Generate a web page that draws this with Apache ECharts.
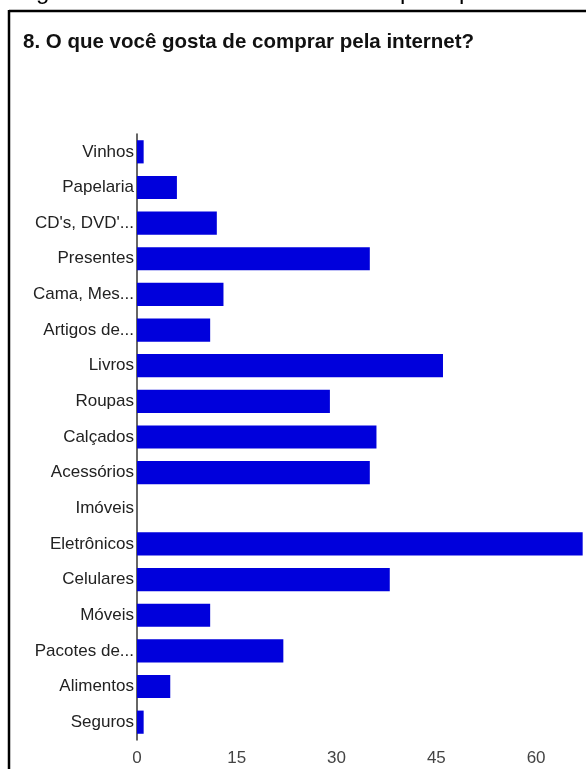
<!DOCTYPE html>
<html>
<head>
<meta charset="utf-8">
<script src="https://cdn.jsdelivr.net/npm/echarts@6/dist/echarts.min.js"></script>
<style>
html,body{margin:0;padding:0;background:#fff;}
#chart{width:586px;height:769px;}
</style>
</head>
<body>
<div id="chart"></div>
<script>
const titleText = "8. O que você gosta de comprar pela internet?";
const categories = ["Vinhos","Papelaria","CD's, DVD'...","Presentes","Cama, Mes...","Artigos de...","Livros","Roupas","Calçados","Acessórios","Imóveis","Eletrônicos","Celulares","Móveis","Pacotes de...","Alimentos","Seguros"];
const values = [1,6,12,35,13,11,46,29,36,35,0,67,38,11,22,5,1];
const xTicks = [0,15,30,45,60];

const chart = echarts.init(document.getElementById('chart'));
chart.setOption({
  backgroundColor:'#fff',
  animation:false,
  title:{
    text:titleText,
    left:18, top:27,
    textStyle:{fontFamily:'Liberation Sans, Arial', fontWeight:'bold', fontSize:20.5, color:'#111'}
  },
  graphic:[
    {type:'line', shape:{x1:9,y1:11,x2:586,y2:11}, style:{stroke:'#000', lineWidth:2.5}},
    {type:'line', shape:{x1:9,y1:10,x2:9,y2:769}, style:{stroke:'#000', lineWidth:2.5}},
    {type:'text', left:36, top:-20, style:{text:'g', font:'24px Liberation Sans', fill:'#000'}},
    {type:'text', left:392, top:-20, style:{text:'q', font:'24px Liberation Sans', fill:'#000'}},
    {type:'text', left:459, top:-20, style:{text:'p', font:'24px Liberation Sans', fill:'#000'}}
  ],
  grid:{left:137, top:134, bottom:29, right:-1, containLabel:false},
  xAxis:{
    type:'value', min:0, max:67.5, interval:15,
    axisLine:{show:false}, axisTick:{show:false}, splitLine:{show:false},
    axisLabel:{color:'#444', fontSize:17, fontFamily:'Liberation Sans, Arial', margin:10, showMaxLabel:false,
      formatter:function(v){return xTicks.indexOf(v)>=0 ? String(v) : '';}}
  },
  yAxis:{
    type:'category', data:categories, inverse:true,
    axisLine:{show:true, lineStyle:{color:'#333', width:1.5}},
    axisTick:{show:false},
    axisLabel:{color:'#222', fontSize:17, fontFamily:'Liberation Sans, Arial', margin:3}
  },
  series:[{
    type:'bar', data:values, barCategoryGap:'35%',
    itemStyle:{color:'#0000dc', borderWidth:0}
  }]
});
</script>
</body>
</html>
